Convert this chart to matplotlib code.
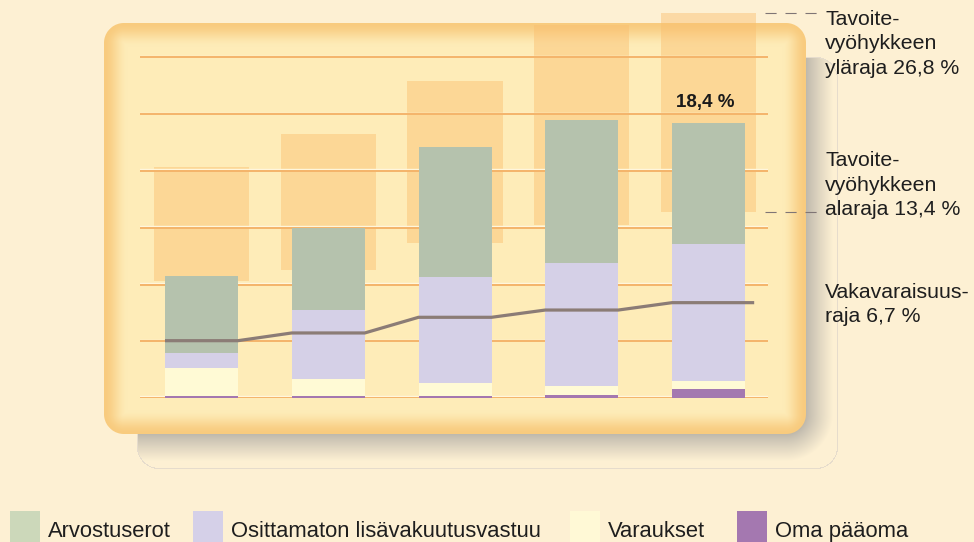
import numpy as np
import matplotlib
matplotlib.use("Agg")
import matplotlib.pyplot as plt
from matplotlib.patches import Rectangle
from matplotlib.transforms import offset_copy

# Values (gridline step = 5 units)
oma_paaoma = [0.18, 0.18, 0.18, 0.26, 0.79]
varaukset = [2.47, 1.50, 1.15, 0.79, 0.70]
osittamaton = [1.32, 6.08, 9.34, 10.84, 12.04]
arvostuserot = [6.78, 7.22, 11.45, 12.60, 10.66]
vakavaraisuusraja = [5.05, 5.73, 7.11, 7.75, 8.40]
tavoite_ala = [10.33, 11.30, 13.66, 15.27, 16.41]
tavoite_yla = [20.35, 23.26, 27.93, 32.86, 33.92]
grid_values = [0, 5, 10, 15, 20, 25, 30]

series_names = ['Arvostuserot', 'Osittamaton lisävakuutusvastuu', 'Varaukset', 'Oma pääoma']
bar_colors = ['#B5C2AD', '#D5D0E7', '#FFFAD5', '#A478B0']
legend_colors = ['#CCD8BA', '#D5D0E8', '#FFF9D6', '#A478B0']
value_label = '18,4 %'
side_labels = ['Tavoite-\nvyöhykkeen\nyläraja 26,8 %',
               'Tavoite-\nvyöhykkeen\nalaraja 13,4 %',
               'Vakavaraisuus-\nraja 6,7 %']

W, H = 974, 542
NARROW = ['Liberation Sans Narrow', 'Liberation Sans', 'DejaVu Sans']
REG = ['Liberation Sans', 'DejaVu Sans']


def sdf_box(xx, yy, x0, y0, x1, y1, r):
    cx, cy = (x0 + x1) / 2, (y0 + y1) / 2
    hx, hy = (x1 - x0) / 2 - r, (y1 - y0) / 2 - r
    qx = np.abs(xx - cx) - hx
    qy = np.abs(yy - cy) - hy
    outside = np.hypot(np.maximum(qx, 0), np.maximum(qy, 0))
    inside = np.minimum(np.maximum(qx, qy), 0)
    return outside + inside - r


# background: cream page, grey drop shadow, bevelled orange panel
yy, xx = np.mgrid[0:H, 0:W] + 0.5
bg = np.array([253, 240, 211]) / 255
img = np.ones((H, W, 3)) * bg

s_main = sdf_box(xx, yy, 104, 23, 806, 434, 20)
s_shadow = sdf_box(xx, yy, 137, 57, 838, 469, 22)

grey = np.array([190, 184, 172]) / 255
t = np.clip(s_main / 27, 0, 1)[..., None] ** 0.9
shadow_col = grey + (bg - grey) * t
mask = (s_shadow < 0)[..., None]
img = np.where(mask, shadow_col, img)
outline = (np.abs(s_shadow + 0.5) < 0.6)[..., None]
img = np.where(outline, np.array([230, 220, 204]) / 255, img)

edge = np.array([248, 203, 126]) / 255
inner = np.array([254, 236, 184]) / 255
d = np.clip(-s_main / 24, 0, 1)
d = (d * d * (3 - 2 * d))[..., None]
panel = edge + (inner - edge) * d
a = np.clip(0.5 - s_main, 0, 1)[..., None]
img = img * (1 - a) + panel * a

fig = plt.figure(figsize=(W / 100, H / 100), dpi=100)
bg_ax = fig.add_axes([0, 0, 1, 1], zorder=0)
bg_ax.imshow(img, aspect='auto', interpolation='nearest')
bg_ax.axis('off')

# data axes
px_per_unit = 11.35
y_top = 34.5
x_left, x_right = -0.485, 4.469
ax = fig.add_axes([140 / W, (H - 398) / H, 628 / W, y_top * px_per_unit / H], zorder=1)
ax.patch.set_alpha(0)
ax.set_xlim(x_left, x_right)
ax.set_ylim(0, y_top)
ax.axis('off')

x = np.arange(len(arvostuserot))
bw = 0.576

# target zones
low = np.array(tavoite_ala)
high = np.array(tavoite_yla)
ax.bar(x, high - low, bottom=low, width=0.75, color=(0.98, 0.745, 0.43),
       alpha=0.45, zorder=1, clip_on=False)

# gridlines with a light highlight above
hl = offset_copy(ax.get_yaxis_transform(), fig=fig, x=0, y=1.6, units='dots')
for g in grid_values:
    ax.plot([0, 1], [g, g], transform=hl, color='#FFF6DC', lw=1.0, zorder=2)
    ax.plot([0, 1], [g, g], transform=ax.get_yaxis_transform(), color='#F4B46A',
            lw=1.4, zorder=2)

# stacked bars, bottom to top
stack = [oma_paaoma, varaukset, osittamaton, arvostuserot]
stack_colors = [bar_colors[3], bar_colors[2], bar_colors[1], bar_colors[0]]
bottom = np.zeros(len(x))
for vals, col in zip(stack, stack_colors):
    ax.bar(x, vals, bottom=bottom, width=bw, color=col, zorder=3, linewidth=0)
    bottom = bottom + np.array(vals)

# solvency limit line: flat over each bar, sloped between
lx, ly = [], []
for i, v in enumerate(vakavaraisuusraja):
    lx += [i - bw / 2, i + bw / 2]
    ly += [v, v]
lx[-1] = x[-1] + 0.36
ax.plot(lx, ly, color='#8B7C76', lw=2.3, zorder=4, solid_capstyle='butt')

ax.annotate(value_label, xy=(x[-1], bottom[-1]), xytext=(-3, 16),
            textcoords='offset pixels', ha='center', va='baseline',
            fontsize=13.5, fontweight='bold', family=REG, color='#1A1A1A')

# dashed leaders to the labels
ax.hlines([tavoite_yla[-1], tavoite_ala[-1]], 4.446, 4.864, colors='#7F7575',
          lw=0.8, linestyles=[(0, (10, 8))], clip_on=False, zorder=4)

for lab, top in zip(side_labels, [10, 151.5, 283]):
    fig.text(825 / W, 1 - top / H, lab, ha='left', va='top', fontsize=15.3,
             family=REG, color='#1E1E1E', linespacing=1.36)

# legend along the bottom
for name, col, px in zip(series_names, legend_colors, [10, 193, 570, 737]):
    fig.add_artist(Rectangle((px / W, 0), 30 / W, 31 / H, transform=fig.transFigure,
                             facecolor=col, edgecolor='none'))
    fig.text((px + 38) / W, 1 - 537 / H, name, ha='left', va='baseline',
             fontsize=15.8, family=NARROW, color='#1E1E1E')

plt.savefig('out.png', dpi=100)
